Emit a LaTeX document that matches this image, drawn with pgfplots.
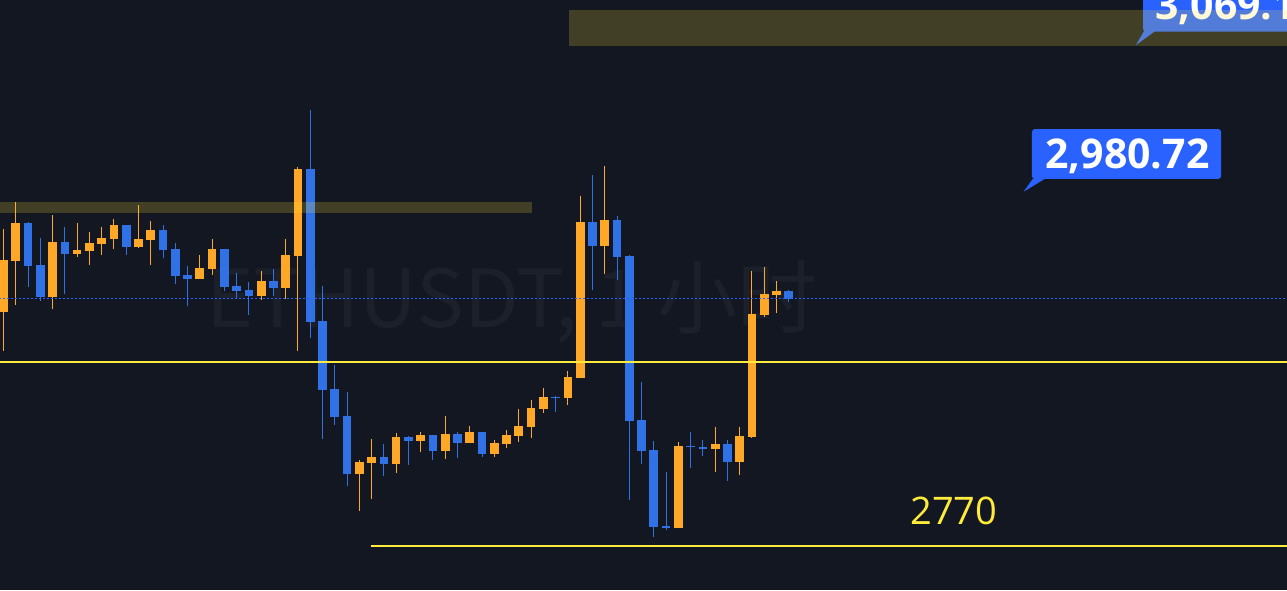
\documentclass[border=0pt]{standalone}
\usepackage{pgfplots}
\pgfplotsset{compat=1.18}
\usepackage{pgfplotstable}
\usepackage{fontspec}
\setmainfont{Open Sans}
\newfontfamily\cjk{Noto Sans CJK SC}
\definecolor{bg}{HTML}{131722}
\definecolor{cup}{HTML}{FFA726}
\definecolor{cdn}{HTML}{3072E6}
\definecolor{lbl}{HTML}{2962FF}
\definecolor{yl}{HTML}{FFEB3B}
\definecolor{band}{RGB}{255,225,60}
\definecolor{wm}{HTML}{1C202B}

\pgfplotstableread{
x o h l c
0 2909.41 2958.61 2886.20 2940.17
1 2939.75 2974.86 2913.57 2962.18
4 2918.33 2966.94 2911.19 2950.88
6 2943.92 2962.18 2942.13 2946.12
7 2945.70 2956.83 2937.37 2950.28
8 2949.87 2959.80 2943.32 2953.26
9 2952.84 2964.56 2946.89 2960.99
11 2948.08 2972.89 2947.49 2952.66
12 2952.25 2963.37 2937.37 2958.02
16 2929.04 2943.14 2929.04 2935.41
17 2934.99 2952.66 2931.42 2946.71
21 2918.93 2933.62 2916.55 2927.67
23 2923.69 2952.66 2917.14 2943.14
24 2942.73 2995.50 2886.20 2994.31
29 2813.02 2821.17 2791.00 2819.98
30 2819.56 2833.66 2798.14 2822.95
32 2818.97 2837.23 2813.61 2834.85
34 2832.65 2837.83 2826.11 2836.04
36 2826.70 2847.35 2821.94 2836.64
38 2831.46 2841.40 2831.46 2837.83
40 2824.92 2833.07 2823.13 2831.28
41 2830.87 2839.02 2828.49 2836.04
42 2835.63 2851.51 2832.06 2841.40
43 2840.98 2856.87 2834.44 2852.11
44 2851.69 2864.01 2849.31 2858.65
46 2858.24 2874.12 2854.07 2870.55
47 2870.14 2978.25 2870.14 2962.78
49 2948.68 2996.10 2932.02 2963.97
55 2780.89 2831.88 2780.89 2829.68
58 2827.89 2840.80 2814.21 2830.69
60 2820.16 2840.80 2812.42 2835.45
61 2835.03 2933.62 2834.44 2908.04
62 2907.62 2936.00 2906.43 2919.94
63 2919.52 2927.67 2908.81 2921.72
}\up

\pgfplotstableread{
x o h l c
2 2962.18 2962.78 2924.28 2936.78
3 2937.19 2953.26 2915.95 2918.33
5 2950.88 2959.80 2920.12 2943.92
10 2960.99 2960.99 2943.32 2948.08
13 2958.02 2960.99 2941.54 2946.30
14 2946.71 2950.28 2926.07 2930.83
15 2931.24 2936.60 2912.98 2929.04
18 2946.71 2946.71 2921.90 2924.28
19 2924.70 2932.43 2917.14 2921.90
20 2922.32 2927.08 2907.62 2918.93
22 2927.67 2934.81 2918.93 2923.69
25 2994.31 3029.42 2893.94 2903.46
26 2903.87 2924.70 2833.84 2863.00
27 2863.41 2877.69 2842.17 2846.93
28 2847.35 2861.63 2805.88 2813.02
31 2822.95 2830.69 2811.83 2818.97
33 2834.85 2835.45 2818.37 2832.65
35 2836.04 2836.04 2821.35 2826.70
37 2836.64 2837.83 2822.54 2831.46
39 2837.83 2837.83 2823.13 2824.92
45 2858.83 2859.25 2849.91 2858.24
48 2962.78 2990.74 2922.50 2948.68
50 2963.97 2966.35 2928.45 2942.13
51 2942.55 2943.14 2797.55 2844.55
52 2844.97 2867.58 2818.97 2826.70
53 2827.12 2832.47 2775.53 2781.48
54 2781.90 2814.21 2779.70 2780.89
56 2829.50 2837.83 2816.59 2829.08
57 2828.73 2833.07 2823.73 2827.89
59 2830.69 2833.07 2808.85 2820.16
64 2921.72 2922.32 2915.36 2917.14
}\down

\begin{document}
\begin{tikzpicture}
\clip (0,0) rectangle (643.5pt,295pt);
\fill[bg] (0,0) rectangle (643.5pt,295pt);
\node[anchor=base, text=wm, inner sep=0pt] at (256pt,131pt)
  {\cjk\fontsize{40pt}{48pt}\selectfont ETHUSDT, 1 小时};
\begin{axis}[
  at={(0,0)}, anchor=south west,
  scale only axis, width=643.5pt, height=295pt,
  hide axis, clip=true,
  xmin=-0.2853, xmax=104.604,
  ymin=2743.82, ymax=3094.87,
  candle/.style 2 args={draw=none, mark=none,
    error bars/.cd, y dir=both, y explicit, error mark=none,
    error bar style={line width=#1, draw=#2}},
]
% wicks
\addplot[candle={0.5pt}{cup}]
  table[x=x, y expr=(\thisrow{h}+\thisrow{l})/2, y error expr=(\thisrow{h}-\thisrow{l})/2] {\up};
\addplot[candle={0.5pt}{cdn}]
  table[x=x, y expr=(\thisrow{h}+\thisrow{l})/2, y error expr=(\thisrow{h}-\thisrow{l})/2] {\down};
% bodies
\addplot[candle={4.35pt}{cup}]
  table[x=x, y expr=(\thisrow{o}+\thisrow{c})/2, y error expr={max(abs(\thisrow{c}-\thisrow{o})/2,0.35)}] {\up};
\addplot[candle={4.35pt}{cdn}]
  table[x=x, y expr=(\thisrow{o}+\thisrow{c})/2, y error expr={max(abs(\thisrow{c}-\thisrow{o})/2,0.35)}] {\down};
% horizontal lines
\addplot[yl, line width=1pt] coordinates {(-1,2879.2) (110,2879.2)};
\addplot[yl, line width=1pt] coordinates {(29.95,2770) (110,2770)};
\addplot[lbl, line width=0.6pt, dash pattern=on 0.9pt off 1.1pt] coordinates {(-1,2917.14) (110,2917.14)};
% labels
\fill[lbl, rounded corners=1.5pt] (axis cs:83.82,3018.11) rectangle (axis cs:99.23,2988.37);
\fill[lbl] (axis cs:83.9,2988.6) -- (axis cs:84.9,2988.6) -- (axis cs:83.13,2980.72) -- cycle;
\node[anchor=base, text=white, inner sep=0pt] at (axis cs:91.6,2994.73)
  {\fontsize{20.5pt}{24pt}\selectfont\bfseries 2,980.72};
\fill[lbl, rounded corners=1.5pt] (axis cs:92.87,3110) rectangle (axis cs:112,3076.01);
\fill[lbl] (axis cs:92.95,3076.3) -- (axis cs:93.85,3076.3) -- (axis cs:92.30,3068.1) -- cycle;
\node[anchor=base west, text=white, inner sep=0pt] at (axis cs:93.85,3082.97)
  {\fontsize{20.5pt}{24pt}\selectfont\bfseries 3,069.13};
\node[anchor=base, text=yl, inner sep=0pt] at (axis cs:77.46,2782.5)
  {\fontsize{19pt}{23pt}\selectfont 2770};
% bands
\addplot[draw=none, fill=band, fill opacity=0.2] coordinates {(46.09,3088.92) (110,3088.92) (110,3067.5) (46.09,3067.5)} -- cycle;
\addplot[draw=none, fill=band, fill opacity=0.2] coordinates {(-1,2974.68) (43.07,2974.68) (43.07,2968.27) (-1,2968.27)} -- cycle;
\end{axis}
\end{tikzpicture}
\end{document}
